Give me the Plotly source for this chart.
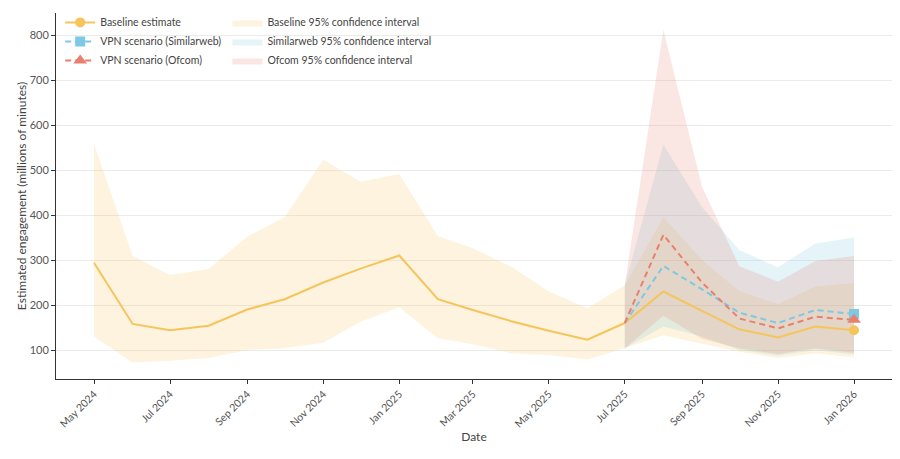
import plotly.graph_objects as go

# ---- data ----
dates = ["2024-05-01", "2024-06-01", "2024-07-01", "2024-08-01", "2024-09-01", "2024-10-01",
         "2024-11-01", "2024-12-01", "2025-01-01", "2025-02-01", "2025-03-01", "2025-04-01",
         "2025-05-01", "2025-06-01", "2025-07-01", "2025-08-01", "2025-09-01", "2025-10-01",
         "2025-11-01", "2025-12-01", "2026-01-01"]
baseline = [294, 158, 144, 154, 190, 213, 250, 281, 310, 213, 189, 164, 143, 123, 160,
            230, 187, 146, 128, 152, 144]
baseline_hi = [558, 309, 267, 280, 352, 395, 523, 474, 491, 353, 326, 285, 230, 193, 244,
               395, 300, 231, 202, 241, 249]
baseline_lo = [130, 72, 76, 82, 100, 104, 116, 163, 195, 126, 113, 93, 89, 79, 104,
               133, 115, 96, 82, 93, 84]

scen_dates = ["2025-07-01", "2025-08-01", "2025-09-01", "2025-10-01", "2025-11-01",
              "2025-12-01", "2026-01-01"]
simweb = [160, 287, 235, 183, 160, 189, 180]
simweb_hi = [244, 556, 418, 322, 284, 337, 350]
simweb_lo = [104, 152, 130, 100, 88, 100, 90]
ofcom = [160, 356, 250, 170, 148, 174, 167]
ofcom_hi = [244, 812, 463, 286, 252, 298, 309]
ofcom_lo = [104, 176, 125, 104, 91, 104, 94]

y_ticks = [100, 200, 300, 400, 500, 600, 700, 800]
x_ticks = ["2024-05-01", "2024-07-01", "2024-09-01", "2024-11-01", "2025-01-01", "2025-03-01",
           "2025-05-01", "2025-07-01", "2025-09-01", "2025-11-01", "2026-01-01"]
x_tick_text = ["May 2024", "Jul 2024", "Sep 2024", "Nov 2024", "Jan 2025", "Mar 2025",
               "May 2025", "Jul 2025", "Sep 2025", "Nov 2025", "Jan 2026"]

YELLOW = "#F5C55C"
BLUE = "#7EC8E3"
RED = "#E8806E"
FONT = "Lato"

fig = go.Figure()


def band(x, lo, hi, color, name):
    fig.add_trace(go.Scatter(
        x=list(x) + list(x)[::-1], y=list(hi) + list(lo)[::-1],
        fill="toself", fillcolor=color, mode="lines", line=dict(width=0),
        name=name, legend="legend2", hoverinfo="skip"))


band(dates, baseline_lo, baseline_hi, "rgba(245,197,92,0.2)", "Baseline 95% confidence interval")
band(scen_dates, simweb_lo, simweb_hi, "rgba(126,200,227,0.2)", "Similarweb 95% confidence interval")
band(scen_dates, ofcom_lo, ofcom_hi, "rgba(232,128,110,0.2)", "Ofcom 95% confidence interval")


def series(x, y, color, dash, symbol, name, msize):
    fig.add_trace(go.Scatter(x=x, y=y, mode="lines", line=dict(color=color, width=2, dash=dash),
                             showlegend=False, hoverinfo="skip"))
    fig.add_trace(go.Scatter(x=[x[-1]], y=[y[-1]], mode="markers",
                             marker=dict(color=color, size=msize, symbol=symbol),
                             showlegend=False))
    fig.add_trace(go.Scatter(x=[None], y=[None], mode="lines+markers", name=name,
                             line=dict(color=color, width=2, dash=dash),
                             marker=dict(color=color, size=msize, symbol=symbol),
                             legend="legend"))


series(dates, baseline, YELLOW, "solid", "circle", "Baseline estimate", 10)
series(scen_dates, simweb, BLUE, "6px,4px", "square", "VPN scenario (Similarweb)", 10)
series(scen_dates, ofcom, RED, "6px,4px", "triangle-up", "VPN scenario (Ofcom)", 12)

fig.update_layout(
    width=900, height=459,
    margin=dict(l=56, r=8, t=13, b=80),
    paper_bgcolor="white", plot_bgcolor="white",
    font=dict(family=FONT, size=11, color="#444"),
    legend=dict(x=0.005, y=1.014, xanchor="left", yanchor="top", bgcolor="rgba(255,255,255,0)",
                font=dict(size=10.5, color="#444"), tracegroupgap=0, itemwidth=30),
    legend2=dict(x=0.205, y=1.014, xanchor="left", yanchor="top", bgcolor="rgba(255,255,255,0)",
                 font=dict(size=10.5, color="#444"), tracegroupgap=0, itemwidth=30),
    xaxis=dict(
        type="date",
        range=["2024-03-31 12:00", "2026-01-31 12:00"],
        tickvals=x_ticks, ticktext=x_tick_text, tickangle=-45,
        showgrid=False, zeroline=False,
        showline=True, linecolor="#333", linewidth=1,
        ticks="outside", ticklen=4, tickcolor="#333",
        tickfont=dict(size=10.5, color="#555"),
        title=dict(text="Date", font=dict(size=12, color="#444"), standoff=0),
    ),
    yaxis=dict(
        range=[35.6, 849],
        tickvals=y_ticks,
        showgrid=True, gridcolor="#EBEBEB", gridwidth=1, zeroline=False,
        showline=True, linecolor="#333", linewidth=1,
        ticks="outside", ticklen=4, tickcolor="#333",
        tickfont=dict(size=11, color="#555"),
        title=dict(text="Estimated engagement (millions of minutes)", font=dict(size=12, color="#444"),
                   standoff=0),
    ),
)

fig.write_html("out.html")
